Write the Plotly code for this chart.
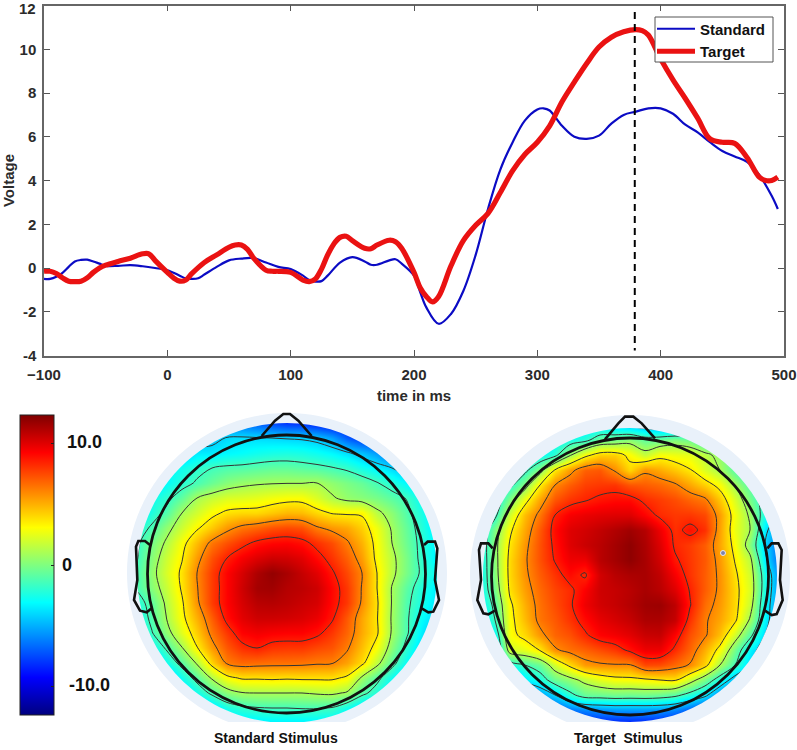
import plotly.graph_objects as go

# ---------- ERP curves ----------
std_t = [-100,-95,-90,-85,-80,-75,-70,-65,-60,-55,-50,-40,-30,-20,-10,0,10,15,20,25,30,40,50,60,70,80,90,100,110,115,120,125,130,140,150,160,165,170,180,185,190,200,205,210,220,230,240,250,260,270,280,290,300,305,310,320,330,340,350,360,370,380,390,400,410,420,430,440,450,460,470,480,490,495]
std_v = [-.5,-.5,-.4,-.22,.05,.3,.37,.38,.3,.2,.1,.1,.13,.08,0,-.1,-.35,-.48,-.5,-.47,-.3,.05,.35,.43,.45,.25,.05,-.05,-.35,-.55,-.62,-.6,-.35,.25,.5,.3,.15,.15,.35,.4,.2,-.35,-1.1,-1.8,-2.55,-2.1,-1.05,.6,2.7,4.5,5.75,6.75,7.25,7.3,7.2,6.5,6,5.9,6.05,6.6,7,7.15,7.3,7.3,7.05,6.55,6.2,5.75,5.35,5.1,4.85,4.25,3.3,2.7]
tgt_t = [-100,-95,-90,-85,-80,-75,-70,-65,-60,-55,-50,-40,-30,-20,-15,-10,0,5,10,15,20,30,40,50,55,60,65,70,80,85,90,100,110,115,120,125,130,135,140,145,150,160,165,170,180,185,190,200,205,210,215,220,230,240,250,260,270,280,290,300,310,320,330,340,350,360,370,380,385,390,400,410,420,430,440,450,460,470,480,485,490,495]
tgt_v = [-.15,-.15,-.25,-.45,-.6,-.62,-.6,-.45,-.2,0,.13,.3,.45,.65,.65,.35,-.2,-.45,-.6,-.55,-.25,.25,.6,.95,1.05,1.05,.85,.45,-.1,-.15,-.15,-.2,-.55,-.62,-.5,-.05,.6,1.1,1.4,1.45,1.25,.9,.88,1.05,1.27,1.2,.9,-.2,-.9,-1.3,-1.55,-1.3,.1,1.25,1.95,2.5,3.45,4.45,5.2,5.75,6.5,7.6,8.5,9.35,10.1,10.55,10.8,10.9,10.85,10.65,9.55,8.6,7.75,6.85,5.9,5.75,5.7,5.05,4.15,4,4,4.15]
peak_t = [379, 379]
peak_v = [11.7, -3.77]
x_ticks = [-100, 0, 100, 200, 300, 400, 500]
y_ticks = [-4, -2, 0, 2, 4, 6, 8, 10, 12]
y_labels = ["-4", "-2", "0", "2", "4", "6", "8", "10", ""]

# ---------- scalp maps (uV on a 21x21 grid, rows top to bottom) ----------
standard_z = [
[-6,-6,-6,-6,-6,-6,-6,-6.5,-7,-7.5,-8,-8,-8.5,-9,-9,-9,-9,-8,-8,-7,-7],
[-5,-5,-5,-5,-5,-4.5,-3.9,-3.8,-3.9,-4,-4.1,-4.2,-4.5,-5.3,-7,-8,-8,-8,-8,-8,-8],
[-5,-5,-5,-4.5,-3.5,-3.5,-3.2,-3,-2.7,-2.5,-2.4,-2.5,-2.8,-3.2,-3.8,-4.6,-5.5,-7,-8,-8,-8],
[-5,-4.5,-3.3,-2.7,-2,-1.5,-1.2,-1.1,-.9,-.7,-.7,-.9,-1.1,-1.4,-1.8,-2.6,-3.3,-4,-5,-6.5,-7],
[-5,-4,-3,-2.1,-1.3,-.5,.2,.6,.8,.9,.95,.95,1,.4,-.1,-.6,-1.4,-2.2,-3.2,-4.5,-5],
[-4,-2.8,-1.9,-.7,1,1.7,2.2,2.3,2.5,2.8,3,3,2.2,1.2,.5,.2,-.2,-.9,-1.6,-3,-4.5],
[-3.8,-2.3,-1,1,2,3.1,3.8,4,4,4.4,4.8,4.7,4,3.4,3.3,3.3,1.4,.3,-1.1,-2.5,-4],
[-2.5,-1.2,.5,1.9,3.3,4.4,5.6,6.4,6.8,7.3,7.5,7.3,6.2,5.6,5.2,4.2,2.7,.8,-.7,-2.2,-3.8],
[-1.8,-.2,1.3,3,4.7,6.4,7.3,8.1,8.8,9.1,9.2,8.9,8.1,7.4,6.2,4.9,3,1,-.5,-2,-3.5],
[-1.6,.2,1.9,3.4,5.5,7.3,8.5,9.4,10,10.4,10.3,9.9,9,8,6.9,5.4,3.1,1.4,-.2,-2,-3.5],
[-1.3,.5,2.2,3.8,6,7.8,9.2,10.2,11.2,11.8,11.3,10.6,9.9,8.7,7.5,6,3.5,1.4,-.2,-1.8,-3],
[-1.3,.2,1.8,3.7,5.9,7.8,9.2,10.4,11.4,11.5,11,10.8,10.4,9.1,7.9,5.9,3.5,.9,-.9,-2.3,-3.5],
[-2.3,-.8,1.4,3.3,5.7,7.8,9.2,10.2,10.9,11,10.8,10.5,10.2,9,7.9,5.8,3.7,.9,-1.2,-2.5,-3.8],
[-3,-1,1.1,3.1,5,7,8.9,9.9,10.4,10.4,10.3,10.1,9.7,8.7,7.1,5.2,3.6,.8,-1.3,-3,-4.2],
[-3.5,-1.6,.4,2.4,4.3,6.4,7.9,9.2,9.5,9.3,9.2,9.2,8.8,7.9,6.8,5.1,3.7,.8,-1.3,-3.5,-5],
[-6,-3,-1.2,.9,3.4,5.5,7.1,8.1,8.5,8,7.9,7.9,7.5,7.2,6.2,4.6,2.9,.2,-2.1,-4,-6],
[-6,-5,-2.7,-.9,1.2,4.1,6.2,6.7,6.6,6.5,6.5,6.4,6.2,6.1,5.3,3.9,1.5,-.9,-3,-4.5,-6],
[-6,-6,-5,-2.7,-.9,1.2,3,3.7,3.7,3.8,3.7,3.8,3.8,3.8,3.2,.7,-1,-2.8,-4.5,-6,-6],
[-6,-6,-6,-4.5,-2.7,-1.1,.2,.9,1,1,1,1,1.2,1.3,.8,-1,-2.3,-4,-6,-6,-6],
[-6,-6,-6,-6,-5,-4,-2.5,-1.9,-1.6,-1.5,-1.5,-1.4,-1.4,-1.6,-2.7,-4,-5,-6,-6,-6,-6],
[-6,-6,-6,-6,-6,-5,-4.2,-3.8,-3.6,-3.5,-3.5,-3.5,-3.5,-3.6,-4,-5,-6,-6,-6,-6,-6],
]
target_z = [
[-5,-5,-5,-5,-5,-5,-4.5,-4,-3.5,-4,-4.5,-5,-5.5,-6,-6.5,-7,-7,-7,-7,-7,-7],
[-5,-5,-5,-5,-4,-3,-2.5,-2,-.5,-.2,.3,-.7,-.5,.1,-.4,-1.8,-3,-4,-5,-6,-6],
[-5,-5,-4.5,-3.5,-3,-2,.8,3,4.2,4.2,3.1,1.7,3,2.7,2.5,1.5,.4,-1,-2.5,-4,-5],
[-5,-4,-3,-2,.2,3.6,5.5,6.9,7.1,5.8,4,5.7,5.1,4.4,3.6,2.2,1,-1,-3,-4,-5],
[-4,-3,-2,.2,3.5,6,7,7.7,7.9,8,7.2,7,6.7,6.2,5.2,4.2,3,.9,-1,-3,-4],
[-4,-3,.1,2.9,5.3,7.2,8,8.4,8.8,9,9,8.2,7.8,7.4,6.8,6.3,4.4,2.2,-.2,-2.5,-4],
[-4,-2,2,4.7,6.4,8.5,9.4,9.7,9.9,10,10,9.2,8.2,7.9,7.9,7.5,5.4,2.8,.7,-2.5,-4.5],
[-3.5,0,3.2,5.2,7.1,9,10,10.3,10.7,11.1,11.5,11,9.6,8.1,8.9,8.1,5.3,2.6,1,-3.5,-6],
[-3,.4,3.7,5.6,7.3,8.8,10,10.5,10.9,11.4,11.9,11.2,10,8.3,7.8,7,5.2,3,.1,-4,-7],
[-3,.3,4,5.8,7.3,8.6,9.6,9.6,10.9,11.4,11.9,11.3,10.3,8.7,7.9,7.1,5.5,3.4,1.5,-3.5,-7],
[-3,.2,4,5.7,7,8,9,8.3,10.3,10.9,11.2,11.3,10.7,9.4,8,7,5.7,3.8,2,-2.5,-6],
[-3,-.2,3.8,5.4,6.7,7.6,8.2,9.3,10.4,10.6,10.9,11.3,10.9,10,8.4,7,5.7,4,2.2,-2.5,-6],
[-3.5,-1,3.2,5,6.5,7.4,8.3,9.6,10.3,10.6,11,11.5,11.6,10.8,8.6,6.6,5.5,4,1.8,-3,-6],
[-4,-1.5,3,4.7,6.4,7.1,8,9,9.8,10.2,10.6,11.2,11.2,10.6,8,6.2,5.2,3.8,.8,-3.2,-6],
[-5,-3,3,4,5.6,6.8,7.3,8.3,9.2,9.5,9.9,10.5,10.6,9.2,7.3,6.2,4.6,2,-1,-4,-7],
[-6,-4.5,2,2.5,3.6,5.8,6.5,6.9,7.4,7.9,8.8,9.6,9.6,8.2,6.8,5,3,-.3,-3.2,-5,-7],
[-7,-6,-2.5,-1.5,-.5,2,3.9,5.5,5.8,5.9,5.9,7.5,7.4,6.7,5.9,4.1,1,-1.5,-4,-6,-7],
[-8,-7,-6,-3.5,-2.5,-.5,.4,1.5,2.4,2.9,3,3.2,3.5,3.7,1.8,-.2,-2.5,-5,-6,-7,-8],
[-9,-8,-7,-7,-5.5,-4,-2,-.6,-.5,-.3,-.4,-.3,-.5,-1,-2.2,-3.5,-6,-7,-8,-8,-9],
[-9,-9,-9,-9,-8,-7.5,-6.5,-6,-5.7,-5.5,-5.5,-5.5,-5.6,-6,-7,-8,-8,-9,-9,-9,-9],
[-9,-9,-9,-9,-9,-9,-9,-9,-9,-9,-9,-9,-9,-9,-9,-9,-9,-9,-9,-9,-9],
]
bar_ticks = [-10, 0, 10]
bar_labels = ["-10.0", "0", "10.0"]

JET = [[0, "#00007f"], [.125, "#0000ff"], [.375, "#00ffff"], [.625, "#ffff00"], [.875, "#ff0000"], [1, "#7f0000"]]
ZMAX = 12.3
W, H = 797, 750
FONT = "Liberation Sans, Arial, sans-serif"
INK = "#2b2b2b"

fig = go.Figure()
fig.add_trace(go.Scatter(x=std_t, y=std_v, mode="lines", name="<b>Standard</b>",
                         line=dict(color="#0b0bc4", width=2.2, shape="spline", smoothing=1)))
fig.add_trace(go.Scatter(x=tgt_t, y=tgt_v, mode="lines", name="<b>Target</b>",
                         line=dict(color="#ea1212", width=5.2, shape="spline", smoothing=1)))
fig.add_trace(go.Scatter(x=peak_t, y=peak_v, mode="lines", showlegend=False,
                         line=dict(color="black", width=2, dash="7px,5px")))

def add_map(z, x0, y0, step, colorbar):
    fig.add_trace(go.Heatmap(z=z, x0=x0, dx=step, y0=y0, dy=step, xaxis="x2", yaxis="y2",
                             colorscale=JET, zmin=-ZMAX, zmax=ZMAX, zsmooth="best",
                             showscale=colorbar, hoverinfo="skip",
                             colorbar=dict(x=19.5 / W, xanchor="left", y=1 - 565 / H, yanchor="middle",
                                           len=300 / H, thickness=33.5, thicknessmode="pixels",
                                           outlinecolor="#222", outlinewidth=1,
                                           tickvals=bar_ticks, ticks="inside", ticklen=3,
                                           tickcolor="#222", showticklabels=False, xpad=0, ypad=0)))
    fig.add_trace(go.Contour(z=z, x0=x0, dx=step, y0=y0, dy=step, xaxis="x2", yaxis="y2",
                             showscale=False, hoverinfo="skip",
                             colorscale=[[0, "#333"], [1, "#333"]],
                             contours=dict(coloring="lines", start=-4, end=8.5, size=2.5),
                             line=dict(width=1, color="#333", smoothing=1.0)))

add_map(standard_z, 137, 423, 15, True)
add_map(target_z, 480, 425, 15, False)

fig.add_trace(go.Scatter(x=[723], y=[553], xaxis="x2", yaxis="y2", mode="markers", showlegend=False,
                         marker=dict(size=5, color="#7f82ad", line=dict(color="#e8e8f0", width=1))))

def ring(cx, cy, r):
    k = .5523 * r
    return (f"M{cx-r},{cy} C{cx-r},{cy-k} {cx-k},{cy-r} {cx},{cy-r} C{cx+k},{cy-r} {cx+r},{cy-k} {cx+r},{cy} "
            f"C{cx+r},{cy+k} {cx+k},{cy+r} {cx},{cy+r} C{cx-k},{cy+r} {cx-r},{cy+k} {cx-r},{cy} Z")

def poly(points):
    head, *rest = points
    return f"M{head[0]},{head[1]} " + " ".join(f"L{a},{b}" for a, b in rest)

def outline(points):
    return dict(type="path", xref="x2", yref="y2", path=poly(points), layer="above",
                line=dict(color="#111", width=2.6))

def scale(zoom_pts, ox, oy=400):
    return [(ox + a / 3, oy + b / 3) for a, b in zoom_pts]

PALE = "#e9f1fa"
shapes = []
for cx, cy, rd, rp, x1, x2 in [(287, 573, 150, 160, 120, 455), (630, 575, 147, 160, 462, 797)]:
    shapes.append(dict(type="path", xref="x2", yref="y2", layer="above",
                       path=f"M{x1},405 L{x2},405 L{x2},735 L{x1},735 Z " + ring(cx, cy, rp - 2),
                       fillcolor="white", line=dict(width=0)))
    shapes.append(dict(type="path", xref="x2", yref="y2", layer="above", path=ring(cx, cy, rp) + " " + ring(cx, cy, rd),
                       fillcolor=PALE, line=dict(width=0)))
    shapes.append(dict(type="rect", xref="x2", yref="y2", layer="above", x0=x1, x1=x2, y0=722, y1=735,
                       fillcolor="white", line=dict(width=0)))

nose_l = [(785,108),(825,62),(850,42),(870,42),(895,62),(935,108)]
ear_ll = [(450,435),(435,423),(415,423),(408,440),(412,540),(402,600),(420,632),(440,637),(455,625)]
ear_lr = [(1272,435),(1283,425),(1305,425),(1312,445),(1305,540),(1317,600),(1300,635),(1285,637),(1265,625)]
nose_r = [(465,118),(505,70),(525,50),(550,50),(575,70),(615,115)]
ear_rl = [(128,445),(115,430),(93,430),(87,450),(93,540),(82,600),(100,640),(115,643),(135,632)]
ear_rr = [(952,445),(965,430),(985,430),(995,450),(990,540),(998,600),(980,642),(965,645),(945,632)]
for pts in (nose_l, ear_ll, ear_lr):
    shapes.append(outline(scale(pts, 0)))
for pts in (nose_r, ear_rl, ear_rr):
    shapes.append(outline(scale(pts, 450)))
for cx, cy, r in [(286.5, 574, 139), (630, 576.5, 138.5)]:
    shapes.append(dict(type="circle", xref="x2", yref="y2", x0=cx-r, x1=cx+r, y0=cy-r, y1=cy+r,
                       layer="above", line=dict(color="#111", width=2.8)))
# legend frame sits above the curves; the legend itself draws on top of it
shapes.append(dict(type="rect", xref="x2", yref="y2", layer="above", x0=655, x1=773, y0=17, y1=62,
                   fillcolor="white", line=dict(color="#555", width=1)))

def note(x, y, text, size, anchor="left", color="#111"):
    return dict(x=x, y=y, xref="x2", yref="y2", text=f"<b>{text}</b>", showarrow=False, xanchor=anchor, yanchor="middle",
                font=dict(family=FONT, size=size, color=color))

annotations = [
    note(65, 442, bar_labels[2], 18),
    note(60, 565, bar_labels[1], 18),
    note(67, 685, bar_labels[0], 18),
    note(276, 738, "Standard Stimulus", 14, "center"),
    note(628, 738, "Target  Stimulus", 14, "center"),
    note(38, 8.5, "12", 15, "right", INK),
]

axis_common = dict(showline=True, linecolor="#666", linewidth=1.5, mirror="ticks", ticks="inside", ticklen=6,
                   tickcolor="#555", tickwidth=1, showgrid=False, zeroline=False,
                   tickfont=dict(family=FONT, size=15, color=INK, weight="bold"))
fig.update_layout(
    width=W, height=H, margin=dict(l=0, r=0, t=0, b=0, autoexpand=False),
    paper_bgcolor="white", plot_bgcolor="rgba(0,0,0,0)",
    xaxis=dict(domain=[44 / W, 784 / W], range=[-100, 500], tickvals=x_ticks, anchor="y",
               title=dict(text="<b>time in ms</b>", font=dict(family=FONT, size=15, color=INK), standoff=8),
               ticklabelstandoff=5, **axis_common),
    yaxis=dict(domain=[1 - 355.5 / H, 1 - 5.5 / H], range=[-4, 12], tickvals=y_ticks, ticktext=y_labels, anchor="x",
               title=dict(text="<b>Voltage</b>", font=dict(family=FONT, size=15, color=INK), standoff=11),
               ticklabelstandoff=3, **axis_common),
    xaxis2=dict(domain=[0, 1], range=[0, W], visible=False, anchor="y2"),
    yaxis2=dict(domain=[0, 1], range=[H, 0], visible=False, anchor="x2"),
    legend=dict(x=652 / W, y=1 - 12.5 / H, xanchor="left", yanchor="top", bgcolor="rgba(0,0,0,0)",
                borderwidth=0, itemwidth=38,
                font=dict(family=FONT, size=15, color="#111"), tracegroupgap=0),
    shapes=shapes, annotations=annotations, showlegend=True,
)
fig.write_html("out.html", config={"displayModeBar": False}, post_script="document.body.style.margin='0';")
